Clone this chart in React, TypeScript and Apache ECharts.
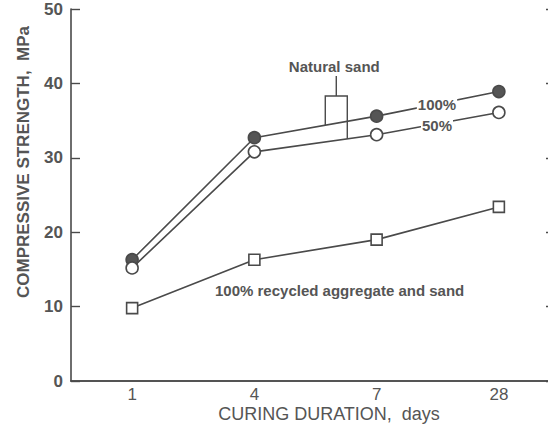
import React, { useEffect, useRef } from "react";
import * as echarts from "echarts";

const curingDays = ["1", "4", "7", "28"];
const naturalSand100 = [16.3, 32.7, 35.6, 38.9];
const naturalSand50 = [15.2, 30.8, 33.1, 36.1];
const recycledAll = [9.8, 16.3, 19.0, 23.4];
const yTicks = { min: 0, max: 50, interval: 10 };

const INK = "#4a4a4a";
const TEXT = "#555";
const FONT = "'Liberation Sans', Arial, sans-serif";

export default function App() {
  const ref = useRef<HTMLDivElement>(null);

  useEffect(() => {
    document.body.style.margin = "0";
    const chart = echarts.init(ref.current!, null, { renderer: "svg" });

    const lineSeries = (name: string, data: number[], symbol: string, fill: string, size: number) => ({
      name,
      type: "line",
      data,
      symbol,
      symbolSize: size,
      showSymbol: true,
      lineStyle: { color: INK, width: 1.6 },
      itemStyle: { color: fill, borderColor: INK, borderWidth: 1.6, opacity: 1 },
      z: 3,
    });

    chart.setOption({
      animation: false,
      backgroundColor: "#ffffff",
      grid: { left: 71, right: 2, top: 9, bottom: 48 },
      xAxis: [
        {
          type: "category",
          data: curingDays,
          boundaryGap: true,
          axisLine: { lineStyle: { color: INK, width: 1.6 } },
          axisTick: { inside: true, alignWithLabel: true, length: 8, lineStyle: { color: INK, width: 1.4 } },
          axisLabel: { color: TEXT, fontSize: 17, fontFamily: FONT, margin: 5, lineHeight: 16 },
          splitLine: { show: false },
        },
        {
          type: "category",
          data: curingDays,
          position: "top",
          boundaryGap: true,
          axisLine: { lineStyle: { color: INK, width: 1.6 } },
          axisTick: { inside: true, alignWithLabel: true, length: 8, lineStyle: { color: INK, width: 1.4 } },
          axisLabel: { show: false },
          splitLine: { show: false },
        },
      ],
      yAxis: [
        {
          type: "value",
          ...yTicks,
          axisLine: { show: true, lineStyle: { color: INK, width: 1.6 } },
          axisTick: { show: true, inside: true, length: 9, lineStyle: { color: INK, width: 1.4 } },
          axisLabel: { color: TEXT, fontSize: 17, fontWeight: "bold", fontFamily: FONT, margin: 8 },
          splitLine: { show: false },
        },
        {
          type: "value",
          position: "right",
          ...yTicks,
          axisLine: { show: true, lineStyle: { color: INK, width: 1.6 } },
          axisTick: { show: true, inside: true, length: 14, lineStyle: { color: INK, width: 1.4 } },
          axisLabel: { show: false },
          splitLine: { show: false },
        },
      ],
      series: [
        lineSeries("100% natural sand", naturalSand100, "circle", "#555", 12),
        lineSeries("50% natural sand", naturalSand50, "circle", "#ffffff", 12),
        lineSeries("100% recycled aggregate and sand", recycledAll, "rect", "#ffffff", 11),
      ],
    });

    // Bracket joining the "Natural sand" note to the two natural-sand curves
    const p = (si: number, i: number) => chart.convertToPixel({ seriesIndex: si }, [i, [naturalSand100, naturalSand50][si][i]]) as number[];
    const a4 = p(0, 1), a7 = p(0, 2), b4 = p(1, 1), b7 = p(1, 2);
    const lerp = (u: number[], v: number[], t: number) => [u[0] + (v[0] - u[0]) * t, u[1] + (v[1] - u[1]) * t];
    const leftFoot = lerp(a4, a7, 0.58);
    const rightFoot = lerp(b4, b7, 0.76);
    const bracketTop = 96;
    const stemX = (leftFoot[0] + rightFoot[0]) / 2;
    const lineStyle = { stroke: INK, lineWidth: 1.4, fill: "none" };
    const noteFont = `bold 15px ${FONT}`;

    chart.setOption({
      graphic: [
        {
          type: "polyline",
          z: 10,
          shape: { points: [[leftFoot[0], leftFoot[1]], [leftFoot[0], bracketTop], [rightFoot[0], bracketTop], [rightFoot[0], rightFoot[1]]] },
          style: lineStyle,
        },
        { type: "line", z: 10, shape: { x1: stemX, y1: 76, x2: stemX, y2: bracketTop }, style: lineStyle },
        {
          type: "text",
          z: 10,
          x: stemX - 2,
          y: 66,
          style: { text: "Natural sand", fill: TEXT, font: noteFont, align: "center", verticalAlign: "middle" },
        },
        {
          type: "text",
          z: 10,
          x: 437,
          y: 104,
          style: { text: "100%", fill: TEXT, font: noteFont, align: "center", verticalAlign: "middle", backgroundColor: "#fff", padding: [0, 1] },
        },
        {
          type: "text",
          z: 10,
          x: 437,
          y: 125,
          style: { text: "50%", fill: TEXT, font: noteFont, align: "center", verticalAlign: "middle", backgroundColor: "#fff", padding: [0, 1] },
        },
        {
          type: "text",
          z: 10,
          x: 215,
          y: 290,
          style: { text: "100% recycled aggregate and sand", fill: TEXT, font: noteFont, align: "left", verticalAlign: "middle" },
        },
        {
          type: "text",
          z: 10,
          x: 329,
          y: 414,
          style: { text: "CURING DURATION,  days", fill: TEXT, font: `18px ${FONT}`, align: "center", verticalAlign: "middle" },
        },
        {
          type: "text",
          z: 10,
          x: 23,
          y: 162,
          rotation: Math.PI / 2,
          style: { text: "COMPRESSIVE STRENGTH,  MPa", fill: TEXT, font: `bold 17px ${FONT}`, align: "center", verticalAlign: "middle" },
        },
      ],
    });

    return () => chart.dispose();
  }, []);

  return (
    <div style={{ width: 548, height: 429, overflow: "hidden", position: "relative" }}>
      <div ref={ref} style={{ width: 562, height: 429 }} />
    </div>
  );
}
